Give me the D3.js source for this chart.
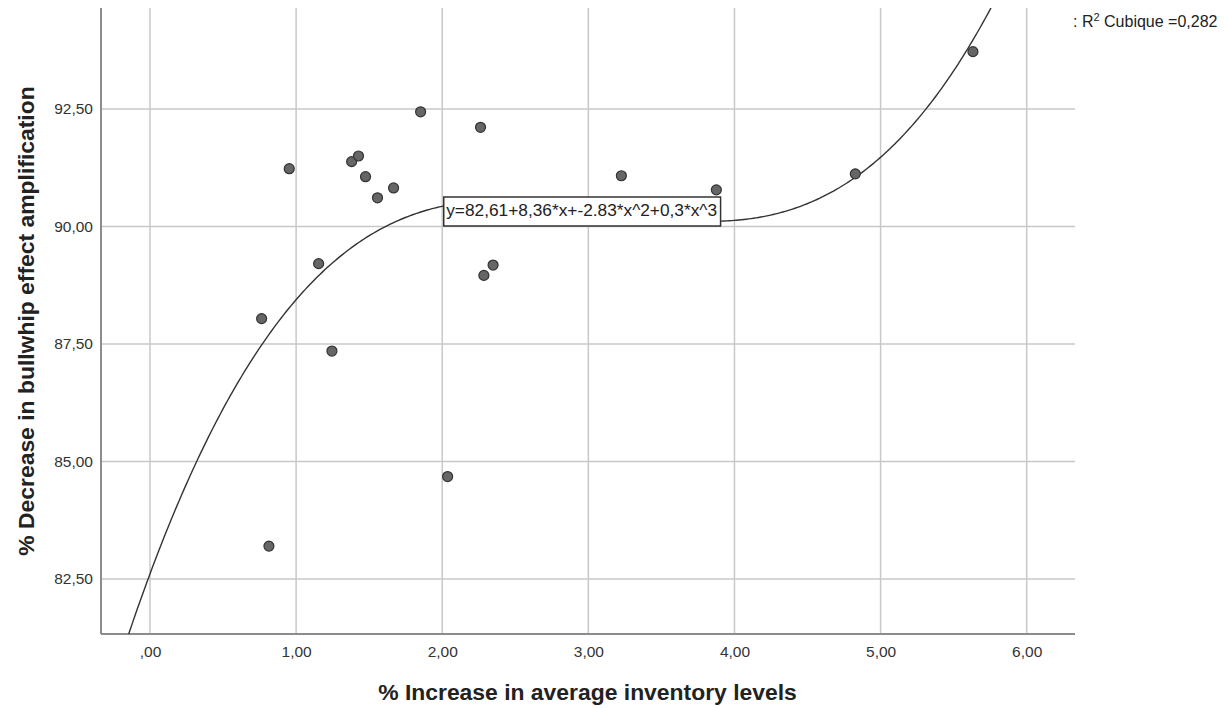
<!DOCTYPE html>
<html>
<head>
<meta charset="utf-8">
<script src="https://cdn.jsdelivr.net/npm/d3@7"></script>
<style>
  html, body { margin: 0; padding: 0; background: #fff; }
  svg { display: block; font-family: "Liberation Sans", Arial, sans-serif; }
</style>
</head>
<body>
<svg id="chart" width="1227" height="708"></svg>
<script>
// ---- data ----
const xValues = [0.953, 1.852, 2.262, 1.380, 1.427, 1.475, 1.667, 1.557, 1.154, 0.764, 1.245, 2.285, 2.348, 3.226, 3.876, 0.814, 2.037, 4.827, 5.632];
const yValues = [91.23, 92.44, 92.11, 91.38, 91.50, 91.06, 90.82, 90.61, 89.21, 88.04, 87.35, 88.96, 89.18, 91.08, 90.78, 83.20, 84.68, 91.12, 93.72];
const xTicks = [0, 1, 2, 3, 4, 5, 6];
const xTickLabels = [",00", "1,00", "2,00", "3,00", "4,00", "5,00", "6,00"];
const yTicks = [82.5, 85, 87.5, 90, 92.5];
const yTickLabels = ["82,50", "85,00", "87,50", "90,00", "92,50"];
const fitCoefficients = [82.61, 8.36, -2.83, 0.3025];
const equationLabel = "y=82,61+8,36*x+-2.83*x^2+0,3*x^3";
const xTitle = "% Increase in average inventory levels";
const yTitle = "% Decrease in bullwhip effect amplification";

// ---- layout ----
const plot = { left: 101, right: 1075, top: 8, bottom: 634 };
const svg = d3.select("#chart");
const FONT = "Liberation Sans, Arial, sans-serif";

const x = d3.scaleLinear().domain([0, 6]).range([150, 1026.7]);
const y = d3.scaleLinear().domain([82.5, 92.5]).range([579, 109]);
const xMin = x.invert(plot.left), xMax = x.invert(plot.right);

// clip
svg.append("defs").append("clipPath").attr("id", "clip")
  .append("rect").attr("x", plot.left).attr("y", plot.top)
  .attr("width", plot.right - plot.left).attr("height", plot.bottom - plot.top);

// grid
const grid = svg.append("g");
grid.selectAll("line.vx").data(xTicks).join("line")
  .attr("x1", d => x(d)).attr("x2", d => x(d))
  .attr("y1", plot.top).attr("y2", plot.bottom)
  .attr("stroke", "#c8c8c8").attr("stroke-width", 1.5);
grid.selectAll("line.hy").data(yTicks).join("line")
  .attr("x1", plot.left).attr("x2", plot.right)
  .attr("y1", d => y(d)).attr("y2", d => y(d))
  .attr("stroke", "#c8c8c8").attr("stroke-width", 1.5);

// axes (D3 axes for labels, domain paths hidden)
const xAxis = d3.axisBottom(x).tickValues(xTicks).tickSize(0).tickPadding(12)
  .tickFormat((d, i) => xTickLabels[i]);
const gx = svg.append("g").attr("transform", `translate(0,${plot.bottom})`).call(xAxis);
gx.select(".domain").remove();
gx.selectAll("text").attr("font-size", 15.5).attr("fill", "#333").attr("font-family", FONT);

const yAxis = d3.axisLeft(y).tickValues(yTicks).tickSize(0).tickPadding(8)
  .tickFormat((d, i) => yTickLabels[i]);
const gy = svg.append("g").attr("transform", `translate(${plot.left},0)`).call(yAxis);
gy.select(".domain").remove();
gy.selectAll("text").attr("font-size", 15.5).attr("fill", "#333").attr("font-family", FONT);

// axis lines
svg.append("line").attr("x1", plot.left).attr("x2", plot.left)
  .attr("y1", plot.top).attr("y2", plot.bottom)
  .attr("stroke", "#8c8c8c").attr("stroke-width", 2);
svg.append("line").attr("x1", plot.left).attr("x2", plot.right)
  .attr("y1", plot.bottom).attr("y2", plot.bottom)
  .attr("stroke", "#8c8c8c").attr("stroke-width", 2);

// fit curve
const fit = v => fitCoefficients.reduce((s, c, i) => s + c * Math.pow(v, i), 0);
const curveXs = d3.range(0, 401).map(i => xMin + (xMax - xMin) * i / 400);
svg.append("path")
  .attr("clip-path", "url(#clip)")
  .attr("d", d3.line().x(d => x(d)).y(d => y(fit(d)))(curveXs))
  .attr("fill", "none").attr("stroke", "#333").attr("stroke-width", 1.4);

// points
svg.append("g").selectAll("circle").data(xValues.map((v, i) => [v, yValues[i]])).join("circle")
  .attr("cx", d => x(d[0])).attr("cy", d => y(d[1])).attr("r", 5)
  .attr("fill", "#666").attr("stroke", "#333").attr("stroke-width", 1.2);

// equation box
const eqX = 2.0;
const eqG = svg.append("g");
const eqText = eqG.append("text")
  .attr("x", x(eqX) + 4).attr("y", 211.5)
  .attr("dominant-baseline", "middle")
  .attr("font-size", 17.3).attr("fill", "#222").attr("font-family", FONT)
  .text(equationLabel);
const bb = eqText.node().getBBox();
eqG.insert("rect", "text")
  .attr("x", x(eqX) + 1.5).attr("y", 197)
  .attr("width", bb.width + 6).attr("height", 29)
  .attr("fill", "#fff").attr("stroke", "#333").attr("stroke-width", 1.5);

// R^2 label
const r2 = svg.append("text").attr("x", 1073).attr("y", 26.5)
  .attr("font-size", 16).attr("fill", "#222").attr("font-family", FONT);
r2.append("tspan").text(": R");
r2.append("tspan").attr("dy", -6).attr("font-size", 11).text("2");
r2.append("tspan").attr("dy", 6).text(" Cubique =0,282");

// titles
svg.append("text").attr("x", 587.5).attr("y", 700)
  .attr("text-anchor", "middle").attr("font-size", 22.9).attr("font-weight", "bold")
  .attr("fill", "#222").attr("font-family", FONT).text(xTitle);
svg.append("text").attr("transform", "translate(34,321) rotate(-90)")
  .attr("text-anchor", "middle").attr("font-size", 22.9).attr("font-weight", "bold")
  .attr("fill", "#222").attr("font-family", FONT).text(yTitle);
</script>
</body>
</html>
